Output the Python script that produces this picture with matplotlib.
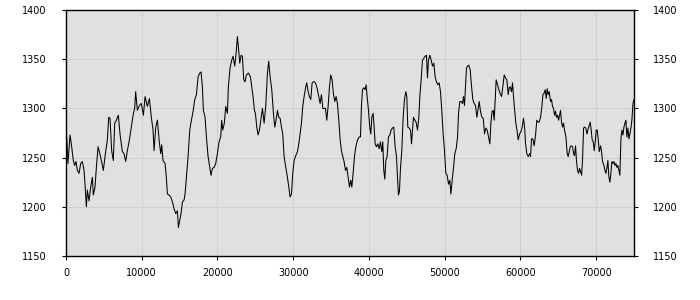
import matplotlib
matplotlib.use("Agg")
import matplotlib.pyplot as plt

# series, (x, value) pairs, one list per stretch
part1 = [(0, 1248), (90, 1271), (260, 1244), (530, 1273), (700, 1264), (970, 1247),
         (1150, 1242), (1320, 1246), (1500, 1237), (1720, 1234), (1940, 1244), (2160, 1246),
         (2380, 1237), (2510, 1223), (2690, 1200), (2820, 1217), (3040, 1206), (3260, 1220),
         (3480, 1230), (3610, 1212), (3830, 1220), (4010, 1240), (4230, 1261), (4400, 1256),
         (4670, 1247), (4930, 1237), (5200, 1254), (5460, 1268), (5640, 1291), (5810, 1290),
         (6030, 1257), (6250, 1247), (6430, 1285), (6650, 1288), (6910, 1293), (7130, 1274),
         (7440, 1256), (7660, 1254), (7880, 1246), (8100, 1257), (8370, 1268), (8630, 1281),
         (8900, 1295), (9070, 1300), (9200, 1317), (9420, 1298), (9690, 1303), (9950, 1305),
         (10220, 1293), (10440, 1312), (10740, 1302), (11010, 1310), (11270, 1291),
         (11490, 1278), (11630, 1257), (11850, 1281), (12070, 1288), (12290, 1268)]
part2 = [(12510, 1254), (12640, 1263), (12810, 1247), (13080, 1244), (13250, 1230),
         (13390, 1213), (13610, 1212), (13830, 1210), (14050, 1205), (14270, 1198),
         (14490, 1193), (14710, 1196), (14840, 1179), (15010, 1186), (15190, 1193),
         (15370, 1205), (15590, 1207), (15720, 1213), (15900, 1230), (16120, 1251),
         (16340, 1278), (16560, 1288), (16780, 1297), (17000, 1309), (17220, 1314),
         (17440, 1332), (17660, 1336), (17830, 1337), (18010, 1322), (18140, 1298),
         (18360, 1291), (18540, 1271), (18760, 1251), (18980, 1240), (19150, 1232),
         (19330, 1239), (19550, 1240), (19770, 1244), (19990, 1254), (20210, 1266),
         (20430, 1271), (20560, 1288), (20690, 1278), (20910, 1285), (21090, 1302),
         (21310, 1295), (21440, 1322), (21660, 1341), (21880, 1349), (22060, 1353),
         (22280, 1343), (22460, 1356), (22630, 1373), (22760, 1363), (22940, 1346),
         (23120, 1354), (23290, 1353), (23470, 1329), (23640, 1327), (23820, 1334),
         (24080, 1336), (24350, 1332), (24520, 1322), (24700, 1312), (24880, 1298)]
part3 = [(25010, 1295), (25190, 1281), (25360, 1273), (25540, 1278), (25720, 1288),
         (25940, 1300), (26160, 1285), (26380, 1303), (26600, 1336), (26770, 1348),
         (26950, 1332), (27170, 1319), (27390, 1295), (27570, 1281), (27740, 1288),
         (27920, 1298), (28090, 1291), (28270, 1290), (28450, 1281), (28620, 1274),
         (28800, 1251), (29020, 1240), (29240, 1230), (29410, 1220), (29590, 1210),
         (29770, 1213), (29940, 1234), (30120, 1247), (30340, 1252), (30560, 1256),
         (30740, 1264), (30910, 1274), (31090, 1285), (31260, 1302), (31440, 1312),
         (31660, 1322), (31790, 1326), (31970, 1317), (32140, 1312), (32320, 1309),
         (32500, 1326), (32670, 1327), (32850, 1327), (33030, 1324), (33200, 1319),
         (33380, 1312), (33550, 1305), (33730, 1314), (33910, 1300), (34080, 1300),
         (34260, 1300), (34430, 1288), (34610, 1302), (34790, 1322), (34960, 1334),
         (35140, 1329), (35310, 1315), (35490, 1307), (35670, 1312), (35840, 1305),
         (36020, 1288), (36200, 1268), (36370, 1257), (36550, 1251), (36720, 1246),
         (36900, 1237), (37080, 1240), (37250, 1230), (37430, 1220), (37600, 1227)]
part4 = [(37740, 1220), (37910, 1234), (38090, 1251), (38270, 1261), (38490, 1268),
         (38710, 1271), (38880, 1271), (39010, 1302), (39150, 1319), (39320, 1321),
         (39500, 1319), (39630, 1324), (39760, 1312), (39940, 1298), (40110, 1281),
         (40250, 1274), (40380, 1291), (40550, 1295), (40690, 1281), (40820, 1264),
         (40990, 1261), (41170, 1264), (41350, 1259), (41520, 1266), (41700, 1256),
         (41830, 1266), (41960, 1237), (42100, 1228), (42230, 1247), (42400, 1251),
         (42580, 1271), (42760, 1273), (42930, 1278), (43110, 1280), (43280, 1281),
         (43460, 1261), (43640, 1251), (43770, 1230), (43900, 1212), (44030, 1216),
         (44170, 1240), (44340, 1257), (44520, 1291), (44690, 1309), (44870, 1317),
         (45000, 1312), (45130, 1281), (45310, 1280), (45490, 1278), (45620, 1264),
         (45750, 1278), (45880, 1291), (46060, 1288), (46230, 1286), (46410, 1278),
         (46590, 1291), (46720, 1312), (46890, 1329), (47070, 1349), (47250, 1351),
         (47420, 1353), (47600, 1354), (47730, 1331), (47860, 1349), (48040, 1354),
         (48220, 1349), (48390, 1343), (48570, 1346), (48740, 1332), (48920, 1327),
         (49100, 1324), (49270, 1326), (49450, 1317), (49620, 1298), (49800, 1274),
         (49980, 1257)]
part5 = [(50150, 1234), (50330, 1232), (50510, 1223), (50680, 1227), (50820, 1213),
         (50990, 1227), (51170, 1240), (51340, 1254), (51520, 1259), (51700, 1271),
         (51830, 1295), (52000, 1307), (52180, 1307), (52360, 1305), (52490, 1312),
         (52620, 1303), (52750, 1322), (52880, 1341), (53020, 1343), (53190, 1344),
         (53370, 1339), (53540, 1323), (53720, 1309), (53900, 1305), (54070, 1303),
         (54250, 1291), (54380, 1298), (54560, 1307), (54730, 1297), (54910, 1291),
         (55090, 1290), (55260, 1274), (55440, 1280), (55610, 1278), (55790, 1271),
         (55970, 1264), (56100, 1285), (56270, 1297), (56410, 1298), (56540, 1288),
         (56670, 1309), (56800, 1329), (56980, 1324), (57160, 1319), (57330, 1315),
         (57510, 1312), (57680, 1322), (57860, 1334), (58040, 1331), (58210, 1329),
         (58390, 1314), (58520, 1321), (58650, 1322), (58830, 1317), (58960, 1326),
         (59090, 1312), (59220, 1300), (59400, 1285), (59580, 1276), (59710, 1268),
         (59890, 1274), (60060, 1276), (60240, 1281), (60410, 1290), (60550, 1281),
         (60680, 1264), (60850, 1254), (61030, 1251), (61210, 1254), (61340, 1251),
         (61470, 1269), (61650, 1269), (61820, 1262), (62000, 1273), (62170, 1288),
         (62350, 1286)]
part6 = [(62480, 1286), (62660, 1291), (62840, 1302), (62970, 1314), (63100, 1315),
         (63280, 1319), (63410, 1310), (63540, 1320), (63670, 1314), (63800, 1317),
         (63980, 1307), (64110, 1309), (64240, 1302), (64380, 1300), (64510, 1293),
         (64640, 1297), (64770, 1291), (64900, 1293), (65040, 1288), (65170, 1293),
         (65300, 1298), (65430, 1286), (65570, 1281), (65700, 1285), (65830, 1278),
         (66010, 1271), (66180, 1254), (66310, 1251), (66450, 1256), (66580, 1261),
         (66710, 1262), (66890, 1261), (67020, 1254), (67150, 1252), (67280, 1262),
         (67410, 1246), (67550, 1237), (67680, 1234), (67810, 1239), (67940, 1236),
         (68080, 1232), (68210, 1249), (68340, 1280), (68470, 1281), (68650, 1280),
         (68780, 1274), (68910, 1278), (69090, 1283), (69220, 1286), (69350, 1278),
         (69480, 1268), (69620, 1266), (69750, 1257), (69880, 1266), (70010, 1278),
         (70140, 1278), (70280, 1268), (70410, 1256), (70590, 1262), (70720, 1256),
         (70850, 1246), (71030, 1242), (71160, 1237), (71290, 1234), (71420, 1239),
         (71550, 1247), (71690, 1230), (71820, 1225), (71950, 1234), (72080, 1246),
         (72210, 1244), (72350, 1246), (72480, 1242), (72610, 1244), (72740, 1240),
         (72870, 1242), (73010, 1237), (73140, 1232), (73270, 1269), (73400, 1278),
         (73540, 1273), (73670, 1281), (73800, 1285), (73930, 1288), (74060, 1271),
         (74200, 1280), (74330, 1269), (74460, 1274), (74590, 1280), (74720, 1288),
         (74860, 1305), (74990, 1309)]

x_ticks = [0, 10000, 20000, 30000, 40000, 50000, 60000, 70000]
y_ticks = [1150, 1200, 1250, 1300, 1350, 1400]

points = part1 + part2 + part3 + part4 + part5 + part6
x_vals = [p[0] for p in points]
y_vals = [p[1] for p in points]

fig = plt.figure(figsize=(7, 3), dpi=100)
ax = fig.add_axes([66 / 700, 44 / 300, 568 / 700, 246 / 300])
ax.set_facecolor("#e0e0e0")

ax.plot(x_vals, y_vals, color="black", linewidth=0.75)

ax.set_xlim(0, 75000)
ax.set_ylim(1150, 1400)
ax.set_xticks(x_ticks)
ax.set_yticks(y_ticks)
ax.grid(True, color="#d0d0d0", linewidth=0.7)
ax.set_axisbelow(True)

for s in ax.spines.values():
    s.set_color("black")
    s.set_linewidth(1)

ax.tick_params(axis="both", direction="out", length=3, width=0.8,
               labelsize=7, colors="black")
ax.tick_params(axis="y", left=True, right=True, labelleft=True, labelright=True, pad=11)
ax.tick_params(axis="x", pad=6)

fig.savefig("out.png", dpi=100)
